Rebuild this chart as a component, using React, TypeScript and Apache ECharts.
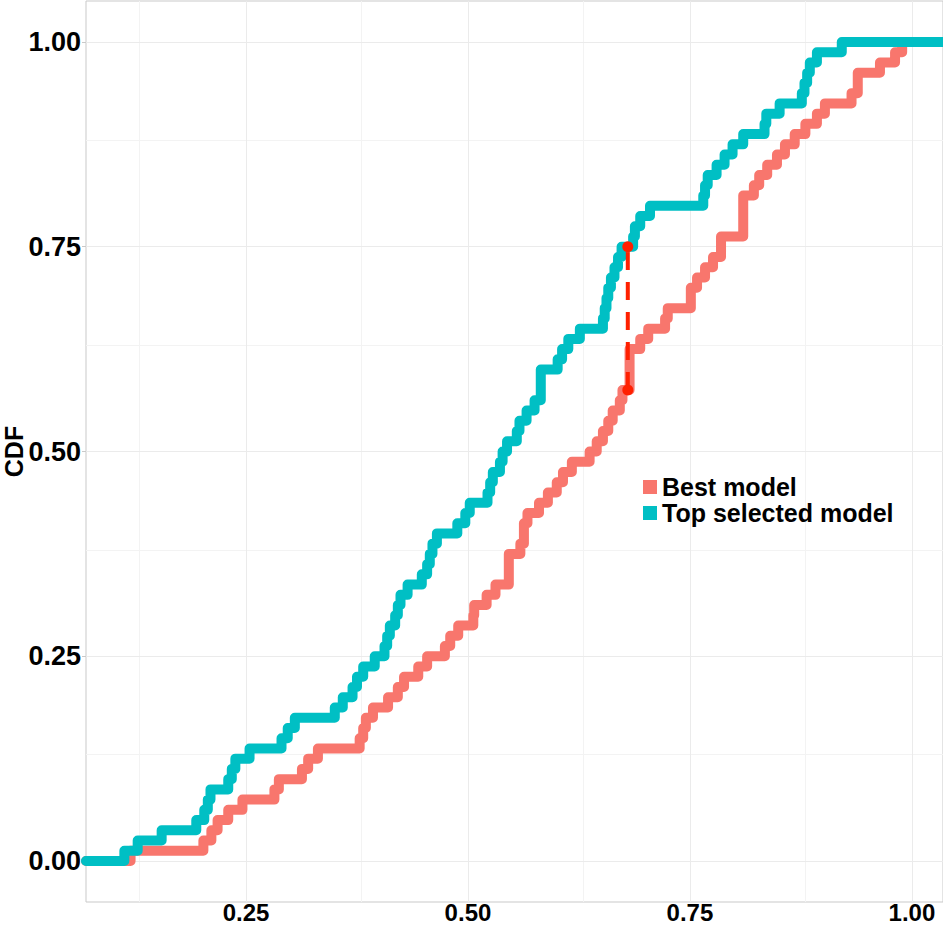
import React, { useEffect, useRef } from "react";
import * as echarts from "echarts";

// Step positions (x) and CDF levels reached at each step (y)
const bestX = [0.120, 0.202, 0.211, 0.218, 0.230, 0.246, 0.282, 0.287, 0.313, 0.320, 0.331, 0.378, 0.382, 0.385, 0.393, 0.410, 0.421, 0.428, 0.444, 0.454, 0.474, 0.480, 0.489, 0.506, 0.507, 0.521, 0.531, 0.546, 0.559, 0.563, 0.567, 0.580, 0.590, 0.600, 0.607, 0.617, 0.637, 0.645, 0.652, 0.658, 0.663, 0.671, 0.674, 0.682, 0.694, 0.703, 0.722, 0.725, 0.751, 0.758, 0.767, 0.776, 0.785, 0.810, 0.822, 0.828, 0.837, 0.848, 0.857, 0.868, 0.880, 0.893, 0.902, 0.932, 0.939, 0.964, 0.981, 0.989];
const bestY = [0.0125, 0.025, 0.0375, 0.05, 0.0625, 0.075, 0.0875, 0.1, 0.1125, 0.125, 0.1375, 0.15, 0.1625, 0.175, 0.1875, 0.2, 0.2125, 0.225, 0.2375, 0.25, 0.2625, 0.275, 0.2875, 0.3, 0.3125, 0.325, 0.3375, 0.375, 0.3875, 0.4125, 0.425, 0.4375, 0.45, 0.4625, 0.475, 0.4875, 0.5, 0.5125, 0.525, 0.5375, 0.55, 0.5625, 0.575, 0.625, 0.6375, 0.65, 0.6625, 0.675, 0.7, 0.7125, 0.725, 0.7375, 0.7625, 0.8125, 0.825, 0.8375, 0.85, 0.8625, 0.875, 0.8875, 0.9, 0.9125, 0.925, 0.9375, 0.9625, 0.975, 0.9875, 1.0];

const topX = [0.113, 0.128, 0.155, 0.194, 0.203, 0.207, 0.210, 0.230, 0.234, 0.238, 0.254, 0.290, 0.297, 0.305, 0.350, 0.359, 0.370, 0.375, 0.382, 0.395, 0.406, 0.409, 0.412, 0.418, 0.421, 0.424, 0.432, 0.448, 0.454, 0.457, 0.460, 0.465, 0.488, 0.497, 0.502, 0.522, 0.525, 0.528, 0.536, 0.539, 0.544, 0.555, 0.558, 0.566, 0.575, 0.582, 0.601, 0.606, 0.613, 0.626, 0.652, 0.654, 0.656, 0.658, 0.661, 0.665, 0.669, 0.673, 0.686, 0.688, 0.694, 0.705, 0.765, 0.767, 0.770, 0.780, 0.789, 0.798, 0.810, 0.834, 0.836, 0.851, 0.876, 0.879, 0.882, 0.885, 0.893, 0.921];
const topY = [0.0125, 0.025, 0.0375, 0.05, 0.0625, 0.075, 0.0875, 0.1, 0.1125, 0.125, 0.1375, 0.15, 0.1625, 0.175, 0.1875, 0.2, 0.2125, 0.225, 0.2375, 0.25, 0.2625, 0.275, 0.2875, 0.3, 0.3125, 0.325, 0.3375, 0.35, 0.3625, 0.375, 0.3875, 0.4, 0.4125, 0.425, 0.4375, 0.45, 0.4625, 0.475, 0.4875, 0.5, 0.5125, 0.525, 0.5375, 0.55, 0.5625, 0.6, 0.6125, 0.625, 0.6375, 0.65, 0.6625, 0.675, 0.6875, 0.7, 0.7125, 0.725, 0.7375, 0.75, 0.7625, 0.775, 0.7875, 0.8, 0.8125, 0.825, 0.8375, 0.85, 0.8625, 0.875, 0.8875, 0.9, 0.9125, 0.925, 0.9375, 0.95, 0.9625, 0.975, 0.9875, 1.0];

// KS distance segment
const ksX = [0.68, 0.68];
const ksY = [0.575, 0.75];

const seriesNames = ["Best model", "Top selected model"];
const xTickLabels = [0.25, 0.5, 0.75, 1.0];
const yTickLabels = [0, 0.25, 0.5, 0.75, 1.0];
const xGridMajor = [0.25, 0.5, 0.75, 1.0];
const xGridMinor = [0.125, 0.375, 0.625, 0.875];
const yGridMajor = [0, 0.25, 0.5, 0.75, 1.0];
const yGridMinor = [0.125, 0.375, 0.625, 0.875];

const X_MIN = 0.0698;
const X_MAX = 1.035;
const Y_MIN = -0.05;
const Y_MAX = 1.05;

const RED = "#F8766D";
const TEAL = "#00BFC4";
const FONT = "'Liberation Sans', Arial, sans-serif";

function ecdf(xs: number[], ys: number[]) {
  const pts: number[][] = [[X_MIN, 0]];
  xs.forEach((x, i) => pts.push([x, ys[i]]));
  pts.push([X_MAX, 1]);
  return pts;
}

export default function App() {
  const ref = useRef<HTMLDivElement>(null);
  useEffect(() => {
    if (!ref.current) return;
    const chart = echarts.init(ref.current, null, { renderer: "svg" });
    const gridLine = (color: string) => ({
      symbol: ["none", "none"],
      silent: true,
      z: 1,
      label: { show: false },
      emphasis: { disabled: true },
      lineStyle: { color, width: 1, type: "solid" },
    });
    chart.setOption({
      animation: false,
      backgroundColor: "#ffffff",
      grid: {
        left: 86,
        right: 0,
        top: 1,
        bottom: 24,
        containLabel: false,
        outerBoundsMode: "none",
        show: true,
        borderColor: "#c9c9c9",
        borderWidth: 1,
        backgroundColor: "transparent",
      },
      legend: {
        data: seriesNames,
        orient: "vertical",
        left: 643,
        top: 474,
        padding: 0,
        icon: "rect",
        itemWidth: 14,
        itemHeight: 14,
        itemGap: 0,
        textStyle: { fontFamily: FONT, fontWeight: "bold", fontSize: 25, lineHeight: 26, color: "#000" },
      },
      xAxis: {
        type: "value",
        min: X_MIN,
        max: X_MAX,
        axisLine: { show: false },
        splitLine: { show: false },
        axisTick: { show: true, length: 4, customValues: xTickLabels, lineStyle: { color: "#c9c9c9" } },
        axisLabel: {
          customValues: xTickLabels,
          formatter: (v: number) => v.toFixed(2),
          fontFamily: FONT,
          fontWeight: "bold",
          fontSize: 24,
          lineHeight: 20,
          color: "#000",
          margin: 0,
        },
      },
      yAxis: {
        type: "value",
        min: Y_MIN,
        max: Y_MAX,
        name: "CDF",
        nameLocation: "middle",
        nameGap: 60,
        nameMoveOverlap: false,
        nameTextStyle: { fontFamily: FONT, fontWeight: "bold", fontSize: 25, lineHeight: 24, color: "#000" },
        axisLine: { show: false },
        splitLine: { show: false },
        axisTick: { show: true, length: 4, customValues: yTickLabels, lineStyle: { color: "#c9c9c9" } },
        axisLabel: {
          customValues: yTickLabels,
          formatter: (v: number) => v.toFixed(2),
          fontFamily: FONT,
          fontWeight: "bold",
          fontSize: 27,
          color: "#000",
          margin: 5,
        },
      },
      series: [
        {
          name: "gridlines",
          type: "line",
          data: [],
          z: 1,
          markLine: {
            ...gridLine("#f3f3f3"),
            data: [
              ...xGridMinor.map((v) => ({ xAxis: v })),
              ...yGridMinor.map((v) => ({ yAxis: v })),
            ],
          },
        },
        {
          name: "gridlines-major",
          type: "line",
          data: [],
          z: 1,
          markLine: {
            ...gridLine("#ebebeb"),
            data: [
              ...xGridMajor.map((v) => ({ xAxis: v })),
              ...yGridMajor.map((v) => ({ yAxis: v })),
            ],
          },
        },
        {
          name: seriesNames[0],
          type: "line",
          step: "end",
          data: ecdf(bestX, bestY),
          showSymbol: false,
          symbol: "none",
          z: 10,
          color: RED,
          itemStyle: { color: RED },
          lineStyle: { color: RED, width: 10, join: "round", cap: "round" },
        },
        {
          name: seriesNames[1],
          type: "line",
          step: "end",
          data: ecdf(topX, topY),
          showSymbol: false,
          symbol: "none",
          z: 11,
          color: TEAL,
          itemStyle: { color: TEAL },
          lineStyle: { color: TEAL, width: 10, join: "round", cap: "round" },
        },
        {
          name: "KS",
          type: "line",
          data: ksX.map((x, i) => [x, ksY[i]]),
          symbol: "circle",
          symbolSize: 11,
          showSymbol: true,
          z: 12,
          itemStyle: { color: "#ff2000" },
          lineStyle: { color: "#ff2000", width: 4, type: [18, 12] },
        },
      ],
    });
    return () => chart.dispose();
  }, []);
  return (
    <div
      ref={ref}
      style={{ position: "fixed", left: 0, top: 0, width: 943, height: 926, background: "#fff" }}
    />
  );
}
